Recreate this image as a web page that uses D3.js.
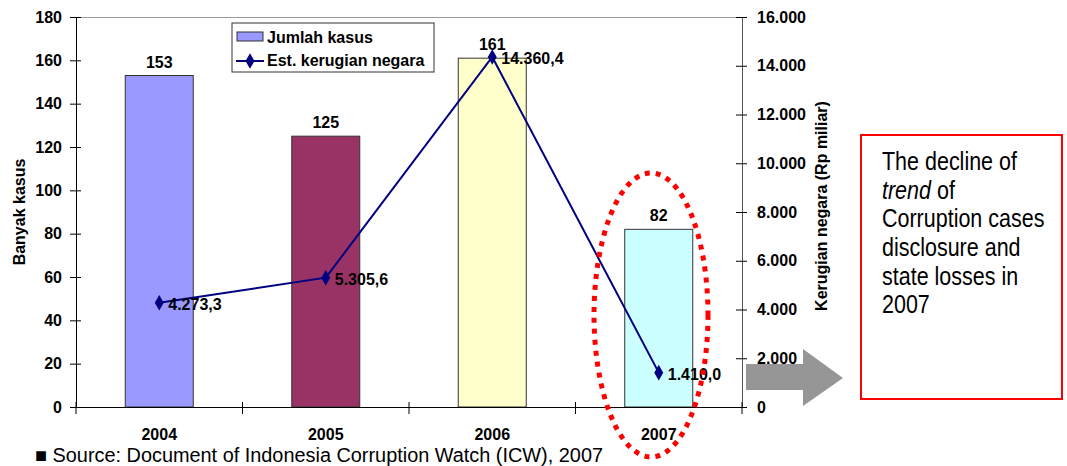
<!DOCTYPE html>
<html>
<head>
<meta charset="utf-8">
<script src="https://cdnjs.cloudflare.com/ajax/libs/d3/7.8.5/d3.min.js"></script>
<style>
  body { margin: 0; background: #fff; }
  text { font-family: "Liberation Sans", Arial, sans-serif; }
</style>
</head>
<body>
<div id="chart"></div>
<script>
// data
var years = ["2004", "2005", "2006", "2007"];
var cases = [153, 125, 161, 82];
var losses = [4273.3, 5305.6, 14360.4, 1410.0];
var barColors = ["#9999FF", "#993366", "#FFFFCC", "#CCFFFF"];
var leftTicks = [0, 20, 40, 60, 80, 100, 120, 140, 160, 180];
var rightTicks = [0, 2000, 4000, 6000, 8000, 10000, 12000, 14000, 16000];

var svgWidth = 1067;
var svgHeight = 466;

var plot = { left: 76, right: 742, top: 17, bottom: 407 };
var fs = 16;

var idFmt = d3.formatLocale({ decimal: ",", thousands: ".", grouping: [3], currency: ["Rp", ""] });
var fmtTick = idFmt.format(",.0f");
var fmtVal = idFmt.format(",.1f");

var svg = d3.select("#chart")
  .append("svg")
  .attr("width", svgWidth)
  .attr("height", svgHeight);

var x = d3.scaleBand()
  .domain(years)
  .range([plot.left, plot.right]);

var yLeft = d3.scaleLinear().domain([0, 180]).range([plot.bottom, plot.top]);
var yRight = d3.scaleLinear().domain([0, 16000]).range([plot.bottom, plot.top]);

// top border of plot area
svg.append("line")
  .attr("x1", plot.left).attr("x2", plot.right)
  .attr("y1", plot.top + 0.5).attr("y2", plot.top + 0.5)
  .attr("stroke", "#9a9a9a");

// bars
var barW = 68;
svg.selectAll("rect.bar")
  .data(cases)
  .enter()
  .append("rect")
  .attr("class", "bar")
  .attr("x", (d, i) => x(years[i]) + x.bandwidth() / 2 - barW / 2)
  .attr("y", d => yLeft(d))
  .attr("width", barW)
  .attr("height", d => yLeft(0) - yLeft(d))
  .attr("fill", (d, i) => barColors[i])
  .attr("stroke", "#333")
  .attr("stroke-width", 1);

svg.selectAll("text.barlab")
  .data(cases)
  .enter()
  .append("text")
  .attr("class", "barlab")
  .attr("x", (d, i) => x(years[i]) + x.bandwidth() / 2)
  .attr("y", d => yLeft(d) - 8)
  .attr("text-anchor", "middle")
  .attr("font-size", fs)
  .attr("font-weight", "bold")
  .text(d => d);

// axes
var leftAxis = d3.axisLeft(yLeft).tickValues(leftTicks).tickSize(0).tickPadding(14);
var gL = svg.append("g")
  .attr("transform", `translate(${plot.left},0)`)
  .call(leftAxis);
gL.select(".domain").attr("stroke", "#000");
gL.selectAll(".tick line").attr("x1", -6).attr("x2", 5).attr("stroke", "#000");
gL.selectAll(".tick text").attr("font-size", fs).attr("font-weight", "bold")
  .attr("font-family", "Liberation Sans, Arial, sans-serif").attr("fill", "#000");

var rightAxis = d3.axisRight(yRight).tickValues(rightTicks).tickFormat(fmtTick).tickSize(0).tickPadding(15);
var gR = svg.append("g")
  .attr("transform", `translate(${plot.right},0)`)
  .call(rightAxis);
gR.select(".domain").attr("stroke", "#555");
gR.selectAll(".tick line").attr("x1", -6).attr("x2", 5).attr("stroke", "#000");
gR.selectAll(".tick text").attr("font-size", fs).attr("font-weight", "bold")
  .attr("font-family", "Liberation Sans, Arial, sans-serif").attr("fill", "#000");

var bottomAxis = d3.axisBottom(x).tickSize(0).tickPadding(22);
var gB = svg.append("g")
  .attr("transform", `translate(0,${plot.bottom})`)
  .call(bottomAxis);
gB.select(".domain").attr("stroke", "#000");
gB.selectAll(".tick text").attr("font-size", fs).attr("font-weight", "bold")
  .attr("font-family", "Liberation Sans, Arial, sans-serif").attr("fill", "#000");
// category boundary ticks
var bounds = years.map(d => x(d)).concat([plot.right]);
gB.selectAll("line.bt")
  .data(bounds)
  .enter()
  .append("line")
  .attr("class", "bt")
  .attr("x1", d => d).attr("x2", d => d)
  .attr("y1", -5).attr("y2", 7)
  .attr("stroke", "#000");

// loss line
var line = d3.line()
  .x((d, i) => x(years[i]) + x.bandwidth() / 2)
  .y(d => yRight(d));

svg.append("path")
  .datum(losses)
  .attr("d", line)
  .attr("fill", "none")
  .attr("stroke", "#000080")
  .attr("stroke-width", 2);

var diamond = d3.symbol().type(d3.symbolDiamond).size(70);
svg.selectAll("path.mk")
  .data(losses)
  .enter()
  .append("path")
  .attr("class", "mk")
  .attr("d", diamond)
  .attr("transform", (d, i) => `translate(${x(years[i]) + x.bandwidth() / 2},${yRight(d)})`)
  .attr("fill", "#000080");

svg.selectAll("text.lnlab")
  .data(losses)
  .enter()
  .append("text")
  .attr("class", "lnlab")
  .attr("x", (d, i) => x(years[i]) + x.bandwidth() / 2 + 9)
  .attr("y", d => yRight(d) + 7)
  .attr("font-size", fs)
  .attr("font-weight", "bold")
  .text(d => fmtVal(d));

// axis titles
svg.append("text")
  .attr("transform", "translate(25,212) rotate(-90)")
  .attr("text-anchor", "middle")
  .attr("font-size", fs)
  .attr("font-weight", "bold")
  .text("Banyak kasus");

svg.append("text")
  .attr("transform", "translate(827,206) rotate(-90)")
  .attr("text-anchor", "middle")
  .attr("font-size", fs)
  .attr("font-weight", "bold")
  .text("Kerugian negara (Rp miliar)");

// legend
var legend = svg.append("g").attr("transform", "translate(232,23)");
legend.append("rect")
  .attr("width", 202).attr("height", 49)
  .attr("fill", "#fff").attr("stroke", "#333");
legend.append("rect")
  .attr("x", 5).attr("y", 9).attr("width", 26).attr("height", 9)
  .attr("fill", barColors[0]).attr("stroke", "#333");
legend.append("text")
  .attr("x", 35).attr("y", 20)
  .attr("font-size", fs).attr("font-weight", "bold")
  .text("Jumlah kasus");
legend.append("line")
  .attr("x1", 4).attr("x2", 32).attr("y1", 38).attr("y2", 38)
  .attr("stroke", "#000080").attr("stroke-width", 2);
legend.append("path")
  .attr("d", diamond)
  .attr("transform", "translate(18,38)")
  .attr("fill", "#000080");
legend.append("text")
  .attr("x", 35).attr("y", 43)
  .attr("font-size", fs).attr("font-weight", "bold")
  .text("Est. kerugian negara");

// red dotted ellipse around 2007
svg.append("ellipse")
  .attr("cx", 651).attr("cy", 315)
  .attr("rx", 57).attr("ry", 142)
  .attr("fill", "none")
  .attr("stroke", "#ff0000")
  .attr("stroke-width", 5)
  .attr("stroke-dasharray", "5 6");

// grey arrow
svg.append("path")
  .attr("d", "M746,364 L803,364 L803,349 L843,378 L803,406 L803,390 L746,390 Z")
  .attr("fill", "#969696");

// annotation box
svg.append("rect")
  .attr("x", 861).attr("y", 135)
  .attr("width", 201).attr("height", 264)
  .attr("fill", "#fff")
  .attr("stroke", "#ff0000")
  .attr("stroke-width", 2);

var noteLines = [
  [["The decline of", false]],
  [["trend", true], [" of", false]],
  [["Corruption cases", false]],
  [["disclosure and", false]],
  [["state losses in", false]],
  [["2007", false]]
];
var note = svg.append("text")
  .attr("transform", "translate(882,0) scale(0.86,1)")
  .attr("font-size", 25)
  .attr("fill", "#000");
noteLines.forEach(function(parts, i) {
  var first = true;
  parts.forEach(function(p) {
    var ts = note.append("tspan").text(p[0]);
    if (first) ts.attr("x", 0).attr("y", 170 + i * 28.7);
    if (p[1]) ts.attr("font-style", "italic");
    first = false;
  });
});

// source
svg.append("text")
  .attr("x", 35).attr("y", 462)
  .attr("font-size", 20)
  .text("\u25A0 Source: Document of Indonesia Corruption Watch (ICW), 2007")
  .attr("textLength", 568)
  .attr("lengthAdjust", "spacingAndGlyphs");
</script>
</body>
</html>
